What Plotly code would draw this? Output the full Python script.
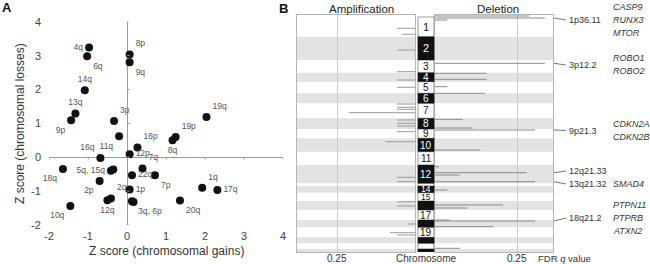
import plotly.graph_objects as go

# ---------------- Panel A data ----------------
arm_labels = ["4q", "6q", "8p", "9q", "14q", "13q", "9p", "3p", "11q", "16p", "12p",
              "16q", "18q", "5q, 15q", "", "7q", "22q", "2p", "7p", "1p", "2q", "12q",
              "3q, 6p", "", "10q", "19q", "19p", "8q", "1q", "17q", "20q"]
gain_z = [-0.98, -1.03, 0.06, 0.06, -1.09, -1.33, -1.44, -0.34, -0.21, 0.26, 0.06,
          -0.69, -1.65, -0.42, -0.36, 0.39, 0.12, -0.71, 0.71, 0.06, -0.42, -0.51,
          0.12, 0.16, -1.46, 2.03, 1.24, 1.16, 1.92, 2.31, 1.35]
loss_z = [3.24, 2.98, 3.03, 2.80, 1.98, 1.29, 1.09, 1.07, 0.62, 0.29, 0.09,
          -0.02, -0.35, -0.40, -0.36, -0.33, -0.53, -0.70, -0.53, -0.95, -1.22, -1.27,
          -1.30, -1.32, -1.44, 1.19, 0.60, 0.50, -0.90, -0.97, -1.28]
label_side = ["middle left", "bottom right", "top right", "bottom right", "top center",
              "top center", "bottom left", "top right", "bottom left", "top right",
              "middle right", "top left", "bottom left", "middle left", "middle left",
              "top right", "middle right", "bottom left", "bottom right", "middle right",
              "top right", "bottom center", "bottom right", "bottom right", "bottom left",
              "top right", "top right", "bottom center", "top right", "middle right",
              "bottom right"]
a_ticks = [-2, -1, 0, 1, 2, 3, 4]
a_ticktext = ["-2", "-1", "0", "1", "2", "3", "4"]

# ---------------- Panel B data ----------------
chrom_names = [str(i) for i in range(1, 23)]
chrom_len = [19.7, 23.3, 12.7, 9.0, 11.6, 10.0, 15.0, 10.7, 9.3, 13.4, 13.3,
             18.3, 2.7, 6.7, 8.3, 9.0, 10.0, 7.3, 10.0, 6.0, 5.7, 4.3]
chrom_labelled = ["1", "2", "3", "4", "5", "6", "7", "8", "9", "10", "11", "12",
                  "14", "15", "17", "19"]

amp_pos = [11.3, 17.3, 33, 54.7, 63, 70.3, 87, 90.3, 92.3, 95.7, 103, 106.3, 109,
           114.7, 124.7, 160.3, 164.7, 184.7, 189, 207, 215.7, 218]
amp_val = [0.23, 0.17, 0.23, 0.23, 0.23, 0.23, 0.23, 0.23, 0.23, 0.85, 0.23, 0.23,
           0.23, 0.23, 0.38, 0.23, 0.23, 0.23, 0.23, 0.09, 0.32, 0.23]

del_pos = [-1, 1, 3, 46.3, 56.3, 62.3, 69.7, 76.3, 102.3, 111, 113, 133, 149.7,
           155.7, 158, 164.7, 173, 188, 191, 203, 204, 209.7, 231.3]
del_val = [1.15, 1.34, 0.15, 1.34, 0.63, 0.63, 0.15, 0.61, 0.34, 0.46, 1.22, 0.55,
           0.05, 1.12, 0.30, 1.22, 0.15, 0.83, 0.39, 0.18, 1.22, 0.71, 0.30]
q_tick = [1]
q_ticktext = ["0.25"]

bands = ["1p36.11", "3p12.2", "9p21.3", "12q21.33", "13q21.32", "18q21.2"]
band_peak = [1, 46.3, 113, 155.7, 164.7, 204]
band_label_pos = [3, 48, 113.5, 154, 167, 201]
band_genes = [["CASP9", "RUNX3", "MTOR"], ["ROBO1", "ROBO2"], ["CDKN2A", "CDKN2B"],
              [], ["SMAD4"], ["PTPN11", "PTPRB", "ATXN2"]]

W, H = 650, 264
FONT = "Liberation Sans, Arial, sans-serif"
B_TOP, B_BOT = 15, 252          # pixel rows of panel B frame
G_TOP, G_BOT = -2, 235          # genome-axis range shown in panel B


def px(x):
    return x / W


def py(y):
    return 1 - y / H


def gy(g):
    """genome coordinate of panel B -> paper y"""
    pix = B_TOP + (g - G_TOP) / (G_BOT - G_TOP) * (B_BOT - B_TOP)
    return py(pix)


def txt(x, y, text, size, color="#333333", xanchor="center", angle=0,
        xref="paper", yref="paper"):
    return dict(x=x, y=y, xref=xref, yref=yref, text=text, showarrow=False,
                xanchor=xanchor, yanchor="middle", textangle=angle,
                font=dict(size=size, color=color, family=FONT))


fig = go.Figure()

# ---- Panel A scatter ----
fig.add_trace(go.Scatter(
    x=gain_z, y=loss_z, mode="markers+text", text=arm_labels,
    textposition=label_side,
    textfont=dict(size=8.5, color="#555555", family=FONT),
    marker=dict(size=8, color="#111111"),
    xaxis="x", yaxis="y", showlegend=False, cliponaxis=False, hoverinfo="skip"))

shapes = []
annotations = []
for t, tt in zip(a_ticks, a_ticktext):
    shapes.append(dict(type="line", xref="x", yref="y", x0=t, x1=t, y0=0, y1=-0.07,
                       line=dict(color="#9a9a9a", width=1)))
    shapes.append(dict(type="line", xref="x", yref="y", x0=0, x1=0.06, y0=t, y1=t,
                       line=dict(color="#9a9a9a", width=1)))
    annotations.append(txt(t, py(236), tt, 11, "#444444", xref="x"))
    annotations.append(txt(px(43), t, tt, 11, "#444444", xanchor="right", yref="y"))

# ---- Panel B: bands for even chromosomes ----
starts = []
acc = 0.0
for L in chrom_len:
    starts.append(acc)
    acc += L
ends = [s + L for s, L in zip(starts, chrom_len)]

for i, name in enumerate(chrom_names):
    if (i + 1) % 2 == 0:
        for xr, yr in (("x2 domain", "y2"), ("x3 domain", "y3")):
            shapes.append(dict(type="rect", xref=xr, yref=yr, x0=0, x1=1,
                               y0=starts[i], y1=ends[i], fillcolor="#e3e3e3",
                               line=dict(width=0), layer="below"))

# chromosome column
col_x0, col_x1 = px(418), px(434)
shapes.append(dict(type="rect", xref="paper", yref="y2", x0=col_x0, x1=col_x1,
                   y0=starts[0], y1=ends[-1], fillcolor="white",
                   line=dict(color="#999999", width=1)))
for i, name in enumerate(chrom_names):
    if (i + 1) % 2 == 0:
        shapes.append(dict(type="rect", xref="paper", yref="y2", x0=col_x0, x1=col_x1,
                           y0=starts[i], y1=ends[i], fillcolor="#111111",
                           line=dict(color="#111111", width=0.5)))

for i, name in enumerate(chrom_names):
    if name in chrom_labelled:
        even = (i + 1) % 2 == 0
        size = 11 if i < 2 else (10 if chrom_len[i] >= 9 else 8.5)
        annotations.append(txt((col_x0 + col_x1) / 2, gy((starts[i] + ends[i]) / 2), name,
                               size, "white" if even else "#111111"))


def spikes(pos, val):
    xs, ys = [], []
    for p, v in zip(pos, val):
        xs += [0, v, None]
        ys += [p, p, None]
    return xs, ys


ax, ay = spikes(amp_pos, amp_val)
fig.add_trace(go.Scatter(x=ax, y=ay, mode="lines", line=dict(color="#9a9a9a", width=1),
                         xaxis="x2", yaxis="y2", showlegend=False, hoverinfo="skip"))
dx, dy = spikes(del_pos, del_val)
fig.add_trace(go.Scatter(x=dx, y=dy, mode="lines", line=dict(color="#8a8a8a", width=1),
                         xaxis="x3", yaxis="y3", showlegend=False, hoverinfo="skip"))

for xr in ("x2", "x3"):
    for t, tt in zip(q_tick, q_ticktext):
        annotations.append(txt(t, py(258), tt, 10, xref=xr))

# right-hand labels
for b, pk, lp, genes in zip(bands, band_peak, band_label_pos, band_genes):
    shapes.append(dict(type="line", xref="paper", yref="paper", x0=px(554), x1=px(566),
                       y0=gy(pk), y1=gy(lp), line=dict(color="#777777", width=1)))
    annotations.append(txt(px(567), gy(lp), b, 9, xanchor="left"))
    n = len(genes)
    for k, g in enumerate(genes):
        annotations.append(txt(px(611), gy(lp + (k - (n - 1) / 2) * 13),
                               "<i>" + g + "</i>", 9, xanchor="left"))

# titles / labels
annotations += [
    txt(px(7), py(8), "<b>A</b>", 13, "#111111"),
    txt(px(283), py(9), "<b>B</b>", 13, "#111111"),
    txt(px(166), py(251), "Z score (chromosomal gains)", 12),
    txt(px(20), py(124), "Z score (chromosomal losses)", 12, angle=-90),
    txt(0.55, py(9), "Amplification", 11.5, "#222222", xref="x2 domain"),
    txt(0.53, py(9), "Deletion", 11.5, "#222222", xref="x3 domain"),
    txt(px(426), py(258), "Chromosome", 10),
    txt(px(536), py(258), "FDR <i>q</i> value", 9.5, xanchor="left"),
]

axis_common_b = dict(showgrid=True, gridcolor="#cccccc", gridwidth=1, zeroline=False,
                     showline=True, mirror=True, linecolor="#b5b5b5", linewidth=1,
                     ticks="", tickvals=q_tick, showticklabels=False, automargin=False)
yaxis_common_b = dict(range=[G_BOT, G_TOP], showgrid=False, zeroline=False,
                      showticklabels=False, automargin=False,
                      showline=True, mirror=True, linecolor="#b5b5b5", linewidth=1,
                      ticks="", domain=[py(B_BOT), py(B_TOP)])

fig.update_layout(
    template="none",
    width=W, height=H, margin=dict(l=0, r=0, t=0, b=0, pad=0),
    paper_bgcolor="white", plot_bgcolor="rgba(0,0,0,0)",
    font=dict(family=FONT),
    xaxis=dict(domain=[px(49.3), px(283.3)], range=[-2, 4], anchor="y",
               showgrid=False, showline=False, zeroline=True, zerolinecolor="#9a9a9a",
               zerolinewidth=1, showticklabels=False, ticks="", automargin=False),
    yaxis=dict(domain=[py(225), py(21.7)], range=[-2, 4], anchor="x",
               showgrid=False, showline=False, zeroline=True, zerolinecolor="#9a9a9a",
               zerolinewidth=1, showticklabels=False, ticks="", automargin=False),
    xaxis2=dict(domain=[px(297), px(415)], range=[1.513, 0], anchor="y2", **axis_common_b),
    yaxis2=dict(anchor="x2", **yaxis_common_b),
    xaxis3=dict(domain=[px(435), px(553)], range=[0, 1.439], anchor="y3", **axis_common_b),
    yaxis3=dict(anchor="x3", **yaxis_common_b),
    shapes=shapes, annotations=annotations,
)

fig.write_html("out.html", config={"displayModeBar": False},
               post_script="document.body.style.margin='0';")
